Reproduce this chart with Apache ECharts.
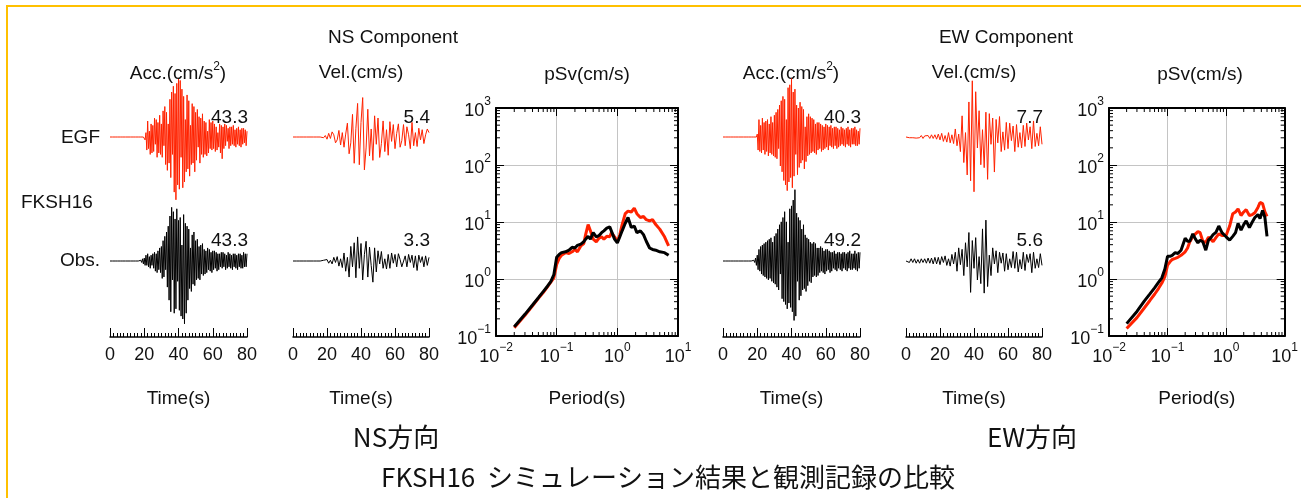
<!DOCTYPE html>
<html>
<head>
<meta charset="utf-8">
<script src="https://cdn.jsdelivr.net/npm/echarts@6/dist/echarts.min.js"></script>
<style>
  html, body { margin: 0; padding: 0; background: #fff; }
  #chart { width: 1301px; height: 498px; }
</style>
</head>
<body>
<div id="chart"></div>
<script>
// ---- waveforms (acc: 0.5 s step, vel: 1 s step, from t = 0) ----
const accStep = 0.5;
const velStep = 1;

const nsEgfAcc = [
  0,0,0,0,0,0,0,0,0,0, 0,0,0,0,0,0,0,0,0,0,
  0,0,0,0,0,0,0,0,0,0, 0,0,0,0,0,0,0,0,0,0,
  1,-2,3,
  -9,11,-8,4,-12,9,-11,8,
  -10,13,-5,12,-14,10,-11,15,-12,9,
  -14,18,-6,21,-19,17,-23,9,-18,26,
  -28,31,-12,35,-38,30,-43.3,37,-33,40,
  -36,39,-14,33,-35,28,-31,12,-24,29,
  -22,25,-27,8,-19,23,-18,21,-24,17,
  -16,19,-7,14,-18,13,-12,16,-14,11,
  -12,10,-13,4,-11,12,-8,10,-9,11,
  -8,9,-10,7,-9,3,-7,9,-11,8,
  -15,7,-8,9,-6,8,-3,6,-8,7,
  -6,7,-5,8,-6,5,-7,6,-5,7,
  -6,5,-7,6,-5,6,-4,5,-6,4
];
const nsObsAcc = [
  0,0,0,0,0,0,0,0,0,0, 0,0,0,0,0,0,0,0,0,0,
  0,0,0,0,0,0,0,0,0,0, 0,0,0,0,0,0,
  0.5,-1,1.5,-2,2,
  -3,4,-3,5,-4,3,-5,4,-3,5,
  -5,6,-7,5,-8,7,-6,9,-8,10,
  -12,14,-11,17,-6,20,-18,24,-27,31,
  -35,37,-13,34,-36,29,-33,36,-14,28,
  -34,30,-38,11,-40,32,-43.3,26,-36,24,
  -27,22,-19,9,-21,18,-16,20,-17,14,
  -13,15,-12,10,-13,11,-9,12,-10,8,
  -9,7,-8,9,-6,8,-7,6,-8,7,
  -6,7,-5,6,-7,5,-6,5,-4,6,
  -5,6,-4,5,-6,4,-5,6,-4,5,
  -5,4,-6,5,-4,5,-5,4,-6,5,
  -4,5,-5,4,-5,6,-4,5,-4,5
];
const ewEgfAcc = [
  0,0,0,0,0,0,0,0,0,0, 0,0,0,0,0,0,0,0,0,0,
  0,0,0,0,0,0,0,0,0,0, 0,0,0,0,0,0,0,0,0,0,
  2,-9,12,-10,8,-11,13,-9,10,-12,11,
  -10,12,-13,9,-11,14,-12,10,-13,15,
  -14,17,-15,19,-8,22,-20,25,-24,28,
  -30,26,-33,12,-37,34,-31,36,-28,40.3,
  -35,31,-27,33,-12,22,-26,20,-21,24,
  -18,21,-16,19,-22,7,-17,14,-13,16,
  -12,14,-11,13,-10,12,-11,9,-12,10,
  -9,10,-8,9,-10,8,-9,7,-8,9,
  -7,8,-9,7,-6,8,-7,6,-8,7,
  -6,7,-8,6,-7,5,-6,7,-5,6,
  -6,5,-7,6,-5,7,-6,5,-7,6,
  -5,6,-5,7,-6,5,-6,4,-5,6
];
const ewObsAcc = [
  0,0,0,0,0,0,0,0,0,0, 0,0,0,0,0,0,0,0,0,0,
  0,0,0,0,0,0,0,0,0,0, 0,0,0,0,0,0,
  0.5,-1,2,-3,4,
  -6,8,-7,10,-9,11,-10,12,-11,13,
  -12,14,-13,15,-12,16,-14,13,-15,17,
  -16,19,-18,22,-20,25,-9,27,-26,30,
  -28,34,-30,27,-33,13,-29,36,-32,38,
  -35,42,-41,49.2,-38,33,-14,30,-27,28,
  -24,22,-20,25,-19,18,-21,16,-17,15,
  -14,13,-15,12,-11,13,-10,12,-11,9,
  -10,9,-8,10,-7,9,-8,7,-9,8,
  -7,8,-6,7,-8,6,-7,6,-5,7,
  -6,5,-7,6,-5,6,-6,5,-7,6,
  -5,6,-6,5,-7,6,-5,7,-6,5,
  -6,5,-5,7,-6,5,-7,6,-5,6
];

const nsEgfVel = [
  0,0,0,0,0,0,0,0,0,0, 0,0,0,0,0,0,0,0.1,-0.1,0.2,
  -0.3,0.5,-0.2,0.7,0.3,-0.8,-0.4,0.9,-1.1,0.6,
  -1.4,0.4,1.9,-2.3,-0.8,3.1,-3.6,1.2,4.6,-3.8,
  2.0,5.4,-4.5,-1.5,3.8,-2.6,1.1,-3.2,2.9,-1.0,
  2.6,-2.8,-0.9,2.2,-2.0,1.0,-2.5,2.1,-0.6,1.7,
  -1.6,0.5,1.8,-1.4,-0.5,1.7,-1.2,1.4,0.3,-1.6,
  2.0,-1.2,0.6,-1.3,1.2,-0.4,1.0,-0.9,0.3,1.1,
  0.6
];
const nsObsVel = [
  0,0,0,0,0,0,0,0,0,0, 0,0,0,0,0,0,0,0,0.1,-0.1,
  0.2,-0.3,0.1,-0.4,0.5,-0.2,0.6,-0.7,0.3,-0.9,
  1.1,-1.4,0.5,-2.2,2.0,-0.8,2.5,-2.3,3.3,-1.0,
  2.4,-2.6,0.9,2.7,-2.2,1.9,-0.6,-2.9,1.8,-1.5,
  1.4,-0.4,1.3,-1.0,0.3,-1.1,0.9,-1.0,1.1,-0.3,
  0.9,-0.8,1.0,0.2,-0.8,-0.9,0.7,-0.8,0.9,-0.2,
  0.8,-0.9,0.7,-1.3,0.8,-0.2,0.6,-0.8,0.7,-0.6,
  0.5
];
const ewEgfVel = [
  0,0.1,-0.1,0.1,-0.1,0.15,-0.15,0.1,-0.1,0.2,
  -0.2,0.15,-0.1,0.2,-0.2,0.3,-0.2,0.3,-0.3,0.4,
  -0.4,0.5,-0.6,0.2,-0.7,0.6,-0.8,0.3,-0.9,1.1,
  -1.2,0.4,-2.0,2.9,-3.5,0.6,-5.2,4.8,-6.0,7.7,
  -7.5,6.2,-1.5,3.6,-3.8,1.0,-4.2,3.4,-5.8,3.2,
  -1.0,2.6,-4.8,2.4,-0.8,2.8,-2.0,0.7,-1.8,2.0,
  -1.6,1.9,-0.5,1.5,-2.0,1.7,-1.4,0.6,-1.5,1.6,
  -1.3,1.9,-0.4,1.4,-1.6,2.2,-1.3,0.5,-1.2,1.4,
  -1.0
];
const ewObsVel = [
  0,0.2,-0.2,0.3,-0.2,0.3,-0.3,0.2,-0.3,0.3,
  -0.2,0.3,-0.3,0.4,-0.3,0.4,-0.4,0.5,-0.4,0.5,
  -0.5,0.6,-0.2,0.7,-0.6,0.3,-0.7,0.9,-0.4,1.2,
  -1.4,1.8,-0.5,1.6,-2.0,2.5,-0.8,3.9,-4.3,2.8,
  -1.0,3.2,-2.6,0.6,-3.1,4.4,-4.4,5.6,-3.5,0.8,
  -2.0,1.8,-0.4,1.4,-1.6,1.2,-0.3,1.1,-1.4,1.0,
  -1.2,0.3,-0.9,1.3,-1.0,1.2,-1.5,0.2,-1.1,1.2,
  -1.3,0.9,-0.2,1.0,-1.6,1.2,-1.0,0.3,-0.9,1.0,
  -0.6
];

const peakEgf = ['43.3', '5.4', '40.3', '7.7'];
const peakObs = ['43.3', '3.3', '49.2', '5.6'];

// ---- pseudo velocity response spectra ----
const nsPeriods = [0.02,0.03,0.04,0.05,0.06,0.07,0.08,0.09,0.1,0.11,0.12,0.14,0.16,0.18,0.2,0.22,0.25,0.28,0.3,0.33,0.36,0.4,0.45,0.5,0.55,0.6,0.67,0.75,0.8,0.9,1.0,1.1,1.2,1.35,1.5,1.7,1.9,2.1,2.4,2.7,3.0,3.4,3.8,4.3,5.0,6.0,7.0];
const nsEgfPsv = [0.14,0.23,0.34,0.46,0.58,0.72,0.88,1.05,1.8,2.3,2.6,2.9,2.8,3.0,3.3,3.0,3.8,4.2,6.0,9.0,7.0,5.0,4.5,5.2,5.5,5.0,5.6,5.5,6.5,5.5,4.5,6.0,9.0,14.0,15.5,15.0,17.5,14.0,12.0,12.5,11.0,10.5,11.0,9.0,7.5,5.5,3.8];
const nsObsPsv = [0.145,0.24,0.35,0.47,0.6,0.74,0.9,1.2,2.4,2.7,2.9,3.0,3.2,3.6,3.5,3.9,4.1,4.5,5.0,5.6,5.0,6.5,5.5,5.8,6.5,7.0,7.8,8.2,7.6,5.0,4.3,5.5,7.0,9.5,12.0,8.0,8.5,6.5,7.0,6.0,4.6,3.5,3.3,3.2,3.0,2.9,2.6];

const ewPeriods = [0.02,0.03,0.04,0.05,0.06,0.07,0.08,0.09,0.1,0.11,0.12,0.135,0.15,0.17,0.2,0.22,0.24,0.27,0.3,0.33,0.36,0.4,0.45,0.5,0.55,0.6,0.67,0.75,0.85,1.0,1.15,1.3,1.45,1.6,1.8,2.0,2.2,2.5,2.8,3.1,3.5,3.8,4.2,4.6,5.0];
const ewEgfPsv = [0.135,0.21,0.31,0.42,0.54,0.68,0.85,1.1,1.75,2.0,2.2,2.3,2.4,2.6,3.0,3.5,4.5,5.5,6.2,6.8,6.5,4.6,4.4,5.4,5.0,4.5,5.3,6.2,5.8,5.8,8.5,14.0,15.0,17.0,13.0,15.0,16.5,13.0,13.5,14.5,18.0,22.0,21.0,15.0,12.5];
const ewObsPsv = [0.165,0.27,0.41,0.55,0.70,0.87,1.05,1.5,2.5,2.5,2.6,2.9,2.8,3.2,5.2,4.6,4.6,6.2,5.0,4.3,4.8,4.5,3.2,4.8,5.3,6.0,6.6,8.5,6.5,5.5,4.8,5.6,6.5,9.5,7.2,9.0,10.5,8.0,10.0,12.0,13.5,11.5,16.0,12.0,5.6];

// ---- layout ----
const FONT = '"Liberation Sans", Arial, sans-serif';
const CJK = '"Noto Sans CJK JP", sans-serif';
const RED = '#ff2200';
const INK = '#111';

const waveCols = [
  { left: 110, width: 137, egf: nsEgfAcc, obs: nsObsAcc, step: accStep, px: 1.45 },
  { left: 293, width: 136, egf: nsEgfVel, obs: nsObsVel, step: velStep, px: 7.3 },
  { left: 723, width: 137, egf: ewEgfAcc, obs: ewObsAcc, step: accStep, px: 1.45 },
  { left: 906, width: 136, egf: ewEgfVel, obs: ewObsVel, step: velStep, px: 7.3 }
];
const rows = [
  { key: 'egf', top: 60, bottom: 215, base: 137 },
  { key: 'obs', top: 180, bottom: 337, base: 261 }
];

const grids = [], xAxes = [], yAxes = [], series = [];

waveCols.forEach((c) => {
  rows.forEach((r) => {
    const gi = grids.length;
    const isObs = r.key === 'obs';
    grids.push({ left: c.left, width: c.width, top: r.top, height: r.bottom - r.top });
    xAxes.push({
      gridIndex: gi, type: 'value', min: 0, max: 80, interval: 20, show: isObs,
      name: 'Time(s)', nameLocation: 'middle', nameGap: 52,
      nameTextStyle: { fontFamily: FONT, fontSize: 19, color: INK },
      axisLine: { onZero: false, lineStyle: { color: '#000', width: 1.5 } },
      axisTick: { inside: true, length: 9, lineStyle: { color: '#000' } },
      minorTick: { show: true, splitNumber: 10, length: 4, lineStyle: { color: '#000' } },
      axisLabel: { fontFamily: FONT, fontSize: 18, color: INK, margin: 9 },
      splitLine: { show: false }
    });
    yAxes.push({
      gridIndex: gi, type: 'value', show: false,
      min: -(r.bottom - r.base) / c.px, max: (r.base - r.top) / c.px
    });
    series.push({
      type: 'line', xAxisIndex: gi, yAxisIndex: gi,
      data: c[r.key].map((v, i) => [i * c.step, v]),
      symbol: 'none', clip: false, silent: true,
      lineStyle: { width: 1, color: isObs ? '#000' : RED }
    });
  });
});

function powLabel(v) {
  const e = Math.round(Math.log10(v));
  return '{b|10}{s|' + (e < 0 ? '\u2212' + (-e) : e) + '}';
}
const powRich = {
  b: { fontSize: 18, fontFamily: FONT, color: INK, padding: [6, 0, 0, 0] },
  s: { fontSize: 12, fontFamily: FONT, color: INK, verticalAlign: 'top' }
};

const minorX = [], minorY = [];
[0.01, 0.1, 1].forEach(d => [2,3,4,5,6,7,8,9].forEach(m => minorX.push([d * m, 1])));
[0.1, 1, 10, 100].forEach(d => [2,3,4,5,6,7,8,9].forEach(m => minorY.push([1, d * m])));

const psvPanels = [
  { left: 496, periods: nsPeriods, egf: nsEgfPsv, obs: nsObsPsv },
  { left: 1109, periods: ewPeriods, egf: ewEgfPsv, obs: ewObsPsv }
];

psvPanels.forEach((p) => {
  const gi = grids.length;
  grids.push({ left: p.left, width: 182, top: 108, height: 228 });
  const xi = xAxes.length, yi = yAxes.length;
  const frame = { show: true, onZero: false, lineStyle: { color: '#000', width: 2 } };
  xAxes.push({
    gridIndex: gi, type: 'log', logBase: 10, min: 0.01, max: 10, splitNumber: 3,
    name: 'Period(s)', nameLocation: 'middle', nameGap: 53,
    nameTextStyle: { fontFamily: FONT, fontSize: 19, color: INK },
    axisLine: frame,
    axisTick: { inside: true, length: 8, lineStyle: { color: '#000' } },
    axisLabel: { formatter: powLabel, rich: powRich, margin: 6 },
    splitLine: { show: true, lineStyle: { color: '#c4c4c4', width: 1 } }
  });
  xAxes.push({
    gridIndex: gi, type: 'log', logBase: 10, min: 0.01, max: 10, splitNumber: 3, position: 'top',
    axisLine: frame, axisTick: { inside: true, length: 8, lineStyle: { color: '#000' } },
    axisLabel: { show: false }, splitLine: { show: false }
  });
  yAxes.push({
    gridIndex: gi, type: 'log', logBase: 10, min: 0.1, max: 1000, splitNumber: 4,
    axisLine: frame,
    axisTick: { inside: true, length: 8, lineStyle: { color: '#000' } },
    axisLabel: { formatter: powLabel, rich: powRich, margin: 5 },
    splitLine: { show: true, lineStyle: { color: '#c4c4c4', width: 1 } }
  });
  yAxes.push({
    gridIndex: gi, type: 'log', logBase: 10, min: 0.1, max: 1000, splitNumber: 4, position: 'right',
    axisLine: frame, axisTick: { inside: true, length: 8, lineStyle: { color: '#000' } },
    axisLabel: { show: false }, splitLine: { show: false }
  });
  series.push({
    type: 'custom', xAxisIndex: xi, yAxisIndex: yi, data: minorX, silent: true,
    renderItem: (params, api) => {
      const b = api.coord([api.value(0), 0.1]);
      const t = api.coord([api.value(0), 1000]);
      return { type: 'group', children: [
        { type: 'line', shape: { x1: b[0], y1: b[1], x2: b[0], y2: b[1] - 4 }, style: { stroke: '#000', lineWidth: 1 } },
        { type: 'line', shape: { x1: t[0], y1: t[1], x2: t[0], y2: t[1] + 4 }, style: { stroke: '#000', lineWidth: 1 } }
      ] };
    }
  });
  series.push({
    type: 'custom', xAxisIndex: xi, yAxisIndex: yi, data: minorY, silent: true,
    renderItem: (params, api) => {
      const l = api.coord([0.01, api.value(1)]);
      const r = api.coord([10, api.value(1)]);
      return { type: 'group', children: [
        { type: 'line', shape: { x1: l[0], y1: l[1], x2: l[0] + 4, y2: l[1] }, style: { stroke: '#000', lineWidth: 1 } },
        { type: 'line', shape: { x1: r[0], y1: r[1], x2: r[0] - 4, y2: r[1] }, style: { stroke: '#000', lineWidth: 1 } }
      ] };
    }
  });
  series.push({
    type: 'line', xAxisIndex: xi, yAxisIndex: yi, symbol: 'none', silent: true,
    data: p.periods.map((T, i) => [T, p.egf[i]]),
    lineStyle: { width: 3, color: RED }
  });
  series.push({
    type: 'line', xAxisIndex: xi, yAxisIndex: yi, symbol: 'none', silent: true,
    data: p.periods.map((T, i) => [T, p.obs[i]]),
    lineStyle: { width: 3, color: '#000' }
  });
});

function txt(text, x, y, size, align, family, rich) {
  return {
    type: 'text', x: x, y: y, silent: true,
    style: {
      text: text, fill: INK, font: size + 'px ' + (family || FONT),
      textAlign: align || 'center', textVerticalAlign: 'middle',
      align: align || 'center', verticalAlign: 'middle', rich: rich
    }
  };
}

const accRich = {
  b: { fontSize: 19, fontFamily: FONT, fill: INK, padding: [3, 0, 0, 0] },
  s: { fontSize: 12, fontFamily: FONT, fill: INK, verticalAlign: 'top' }
};

const graphics = [
  { type: 'rect', silent: true, shape: { x: 7, y: 6, width: 1400, height: 600 },
    style: { fill: 'none', stroke: '#ffc000', lineWidth: 2 } },
  txt('NS Component', 393, 38, 19),
  txt('EW Component', 1006, 38, 19),
  txt('{b|Acc.(cm/s}{s|2}{b|)}', 178, 72, 19, 'center', FONT, accRich),
  txt('Vel.(cm/s)', 361, 73, 19),
  txt('pSv(cm/s)', 587, 75, 19),
  txt('{b|Acc.(cm/s}{s|2}{b|)}', 791, 72, 19, 'center', FONT, accRich),
  txt('Vel.(cm/s)', 974, 73, 19),
  txt('pSv(cm/s)', 1200, 75, 19),
  txt('EGF', 100, 138, 19, 'right'),
  txt('FKSH16', 21, 203, 19, 'left'),
  txt('Obs.', 100, 261, 19, 'right'),
  txt('NS\u65b9\u5411', 396, 437, 26, 'center', CJK),
  txt('EW\u65b9\u5411', 1032, 437, 26, 'center', CJK),
  txt('FKSH16\u00a0\u00a0\u30b7\u30df\u30e5\u30ec\u30fc\u30b7\u30e7\u30f3\u7d50\u679c\u3068\u89b3\u6e2c\u8a18\u9332\u306e\u6bd4\u8f03', 668, 477, 26, 'center', CJK)
];
waveCols.forEach((c, i) => {
  graphics.push(txt(peakEgf[i], c.left + c.width + 1, 118, 19, 'right'));
  graphics.push(txt(peakObs[i], c.left + c.width + 1, 241, 19, 'right'));
});

const chart = echarts.init(document.getElementById('chart'));
chart.setOption({
  animation: false,
  backgroundColor: '#fff',
  grid: grids,
  xAxis: xAxes,
  yAxis: yAxes,
  series: series,
  graphic: graphics
});
</script>
</body>
</html>
